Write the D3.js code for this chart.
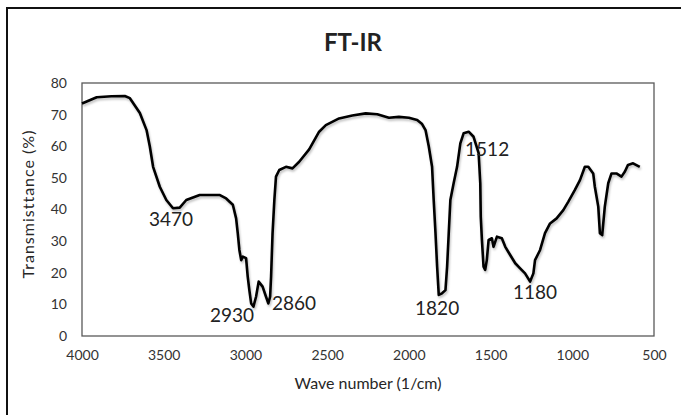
<!DOCTYPE html>
<html>
<head>
  <meta charset="utf-8">
  <style>
  body {
    margin: 0;
    background: #fff;
  }
  text {
    font-family: Lato, "Open Sans", sans-serif;
  }
  .tick text {
    font-size: 14px;
    fill: #333;
  }
  </style>
  <script src="https://d3js.org/d3.v7.min.js"></script>
</head>
<body>
  <script type="text/javascript">
  // spectrum (wave number in 1/cm, transmittance in %)
  var waveNumbers = [4000, 3910, 3820, 3738, 3707, 3646, 3605, 3585, 3565, 3524,
    3484, 3443, 3402, 3362, 3280, 3159, 3118, 3077, 3057, 3047,
    3037, 3026, 3016, 2996, 2986, 2976, 2965, 2951, 2935, 2919,
    2895, 2874, 2860, 2849, 2843, 2834, 2823, 2813, 2793, 2752,
    2712, 2671, 2610, 2549, 2508, 2427, 2346, 2264, 2193, 2122,
    2061, 2000, 1949, 1919, 1898, 1878, 1858, 1848, 1837, 1827,
    1817, 1797, 1776, 1766, 1756, 1746, 1726, 1705, 1685, 1665,
    1634, 1604, 1573, 1563, 1560, 1553, 1543, 1533, 1523, 1512,
    1492, 1482, 1461, 1431, 1410, 1380, 1349, 1319, 1289, 1258,
    1238, 1228, 1197, 1167, 1136, 1096, 1055, 1024, 984, 953,
    923, 902, 872, 862, 841, 831, 817, 801, 780, 760,
    730, 699, 678, 659, 628, 587];
  var transmittance = [73.5, 75.5, 75.8, 75.9, 75.2, 70.5, 65.1, 59.9, 53.5, 47.2,
    43.0, 40.4, 40.6, 43.0, 44.6, 44.6, 43.5, 41.5, 37.2, 32.5,
    27.2, 24.0, 25.1, 24.6, 18.8, 14.5, 10.3, 9.3, 12.4, 17.2,
    15.6, 12.4, 10.3, 12.4, 18.8, 32.5, 43.0, 50.4, 52.5, 53.5,
    53.0, 55.1, 59.0, 64.6, 66.7, 68.8, 69.7, 70.4, 70.1, 69.0,
    69.3, 69.0, 68.3, 67.0, 65.1, 59.9, 53.5, 43.0, 32.5, 21.9,
    13.0, 13.5, 14.5, 21.9, 32.5, 43.0, 48.3, 53.5, 60.9, 64.1,
    64.6, 63.0, 57.8, 48.3, 37.7, 30.4, 21.9, 20.9, 24.0, 30.4,
    30.9, 28.2, 31.4, 30.9, 28.2, 25.6, 23.0, 21.4, 19.8, 17.2,
    19.8, 24.0, 27.2, 32.5, 35.6, 37.2, 39.8, 42.5, 46.2, 49.3,
    53.5, 53.5, 51.4, 47.2, 40.9, 32.5, 31.9, 40.9, 48.3, 51.4,
    51.4, 50.4, 52.0, 54.1, 54.6, 53.5];

  // peak labels and where they sit (data units)
  var peakLabels = ['3470', '2930', '2860', '1820', '1512', '1180'];
  var peakLabelX = [3455, 3082, 2703, 1827, 1521, 1228];
  var peakLabelY = [37.0, 6.5, 10.4, 8.7, 59.1, 13.9];

  var xTicks = [4000, 3500, 3000, 2500, 2000, 1500, 1000, 500];
  var yTicks = [0, 10, 20, 30, 40, 50, 60, 70, 80];

  var width = 681,
      height = 415,
      plotLeft = 82,
      plotRight = 654,
      plotTop = 83,
      plotBottom = 336;

  var svg = d3.select('body')
              .append('svg')
              .attr('width', width)
              .attr('height', height);

  var defs = svg.append('defs');
  defs.append('filter')
      .attr('id', 'shadow')
      .attr('x', '-5%').attr('y', '-5%')
      .attr('width', '110%').attr('height', '110%')
      .append('feDropShadow')
      .attr('dx', 1).attr('dy', 2)
      .attr('stdDeviation', 1.2)
      .attr('flood-color', '#000')
      .attr('flood-opacity', 0.25);

  // outer border (top and left only, the rest is cropped)
  svg.append('path')
     .attr('d', 'M7,415 L7,8 L681,8')
     .attr('fill', 'none')
     .attr('stroke', '#111')
     .attr('stroke-width', 2);

  var x_scale = d3.scaleLinear().domain([4000, 500]).range([plotLeft, plotRight]);
  var y_scale = d3.scaleLinear().domain([0, 80]).range([plotBottom, plotTop]);

  var x_axis = d3.axisBottom(x_scale).tickValues(xTicks).tickSize(0).tickPadding(14)
                 .tickFormat(d3.format('d'));
  var y_axis = d3.axisLeft(y_scale).tickValues(yTicks).tickSize(0).tickPadding(15)
                 .tickFormat(d3.format('d'));

  svg.append('g')
     .attr('class', 'x axis')
     .attr('transform', 'translate(0,' + plotBottom + ')')
     .call(x_axis)
     .call(function(g) { g.select('.domain').remove(); });

  svg.append('g')
     .attr('class', 'y axis')
     .attr('transform', 'translate(' + plotLeft + ',0)')
     .call(y_axis)
     .call(function(g) { g.select('.domain').remove(); });

  // plot frame
  svg.append('rect')
     .attr('x', plotLeft)
     .attr('y', plotTop)
     .attr('width', plotRight - plotLeft)
     .attr('height', plotBottom - plotTop)
     .attr('fill', 'none')
     .attr('stroke', '#595959')
     .attr('stroke-width', 1.3);

  var points = waveNumbers.map(function(w, i) {
    return [w, transmittance[i]];
  });

  var line = d3.line()
               .x(function(d) { return x_scale(d[0]); })
               .y(function(d) { return y_scale(d[1]); })
               .curve(d3.curveLinear);

  svg.append('path')
     .datum(points)
     .attr('d', line)
     .attr('fill', 'none')
     .attr('stroke', '#000')
     .attr('stroke-width', 2.6)
     .attr('stroke-linejoin', 'round')
     .attr('filter', 'url(#shadow)');

  svg.selectAll('.peak')
     .data(peakLabels)
     .enter()
     .append('text')
     .attr('class', 'peak')
     .attr('x', function(d, i) { return x_scale(peakLabelX[i]); })
     .attr('y', function(d, i) { return y_scale(peakLabelY[i]); })
     .attr('dy', '0.36em')
     .attr('text-anchor', 'middle')
     .attr('font-size', 19)
     .attr('fill', '#222')
     .text(function(d) { return d; });

  // titles
  svg.append('text')
     .attr('x', 353)
     .attr('y', 51)
     .attr('text-anchor', 'middle')
     .attr('font-size', 24)
     .attr('font-weight', 'bold')
     .attr('fill', '#222')
     .text('FT-IR');

  svg.append('text')
     .attr('x', 368)
     .attr('y', 389)
     .attr('text-anchor', 'middle')
     .attr('font-size', 16)
     .attr('fill', '#262626')
     .text('Wave number (1/cm)');

  svg.append('text')
     .attr('transform', 'translate(34,204) rotate(-90)')
     .attr('text-anchor', 'middle')
     .attr('font-size', 16)
     .attr('letter-spacing', 1)
     .attr('fill', '#262626')
     .text('Transmisttance (%)');
  </script>
</body>
</html>
